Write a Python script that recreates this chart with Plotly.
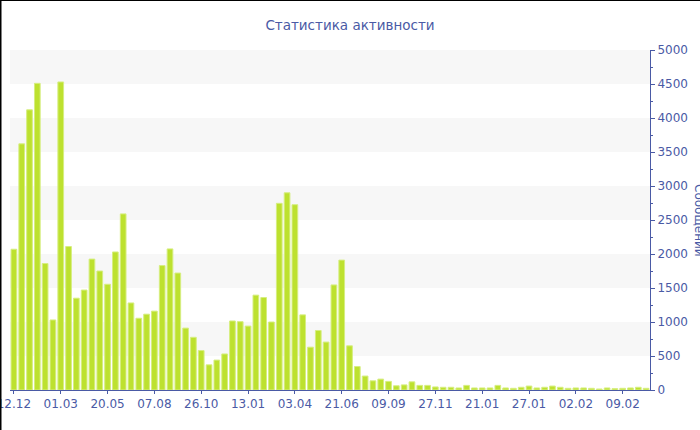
import plotly.graph_objects as go

# messages per period
messages = [
    2070, 3620, 4120, 4510, 1860, 1030, 4530, 2110, 1350, 1470,
    1925, 1750, 1555, 2030, 2590, 1280, 1055, 1115, 1160, 1830,
    2075, 1720, 910, 775, 580, 370, 440, 530, 1015, 1005,
    940, 1395, 1360, 1000, 2745, 2900, 2725, 1105, 630, 875,
    705, 1545, 1910, 650, 345, 205, 135, 160, 127, 62,
    75, 120, 68, 68, 45, 40, 40, 30, 68, 30,
    30, 30, 68, 30, 25, 40, 58, 30, 40, 58,
    40, 25, 30, 30, 25, 15, 30, 20, 25, 30,
    40, 25,
]
tick_labels = ["12.12", "01.03", "20.05", "07.08", "26.10", "13.01", "03.04",
               "21.06", "09.09", "27.11", "21.01", "27.01", "02.02", "09.02"]
tick_step = 6
y_max = 5000
y_step = 500

AXIS = "#4a5aa5"
BAR = "#bde12f"
W, H = 700, 430
M = dict(l=10, r=50, t=50, b=40)

x = list(range(len(messages)))
tickvals = [i * tick_step for i in range(len(tick_labels))]

fig = go.Figure(go.Bar(
    x=x,
    y=messages,
    marker=dict(color=BAR, line=dict(color="#d6ee80", width=1)),
    hovertemplate="%{y}<extra></extra>",
))

# alternating grey bands behind the bars
shapes = []
for lo in range(y_step, y_max, 2 * y_step):
    shapes.append(dict(type="rect", xref="paper", yref="y", x0=0, x1=1,
                       y0=lo, y1=lo + y_step, fillcolor="#f7f7f7",
                       line=dict(width=0), layer="below"))

# thin dark frame on top and left edges of the picture
pw = W - M["l"] - M["r"]
ph = H - M["t"] - M["b"]
left = -M["l"] / pw
right = (W - M["l"]) / pw
bottom = -M["b"] / ph
top = (H - M["b"]) / ph
shapes.append(dict(type="line", xref="paper", yref="paper", x0=left, x1=right,
                   y0=top, y1=top, line=dict(color="#000", width=2)))
shapes.append(dict(type="line", xref="paper", yref="paper", x0=left, x1=left,
                   y0=bottom, y1=top, line=dict(color="#000", width=3)))

fig.update_layout(
    width=W, height=H,
    paper_bgcolor="white",
    plot_bgcolor="white",
    margin=M,
    font=dict(family="DejaVu Sans", size=12, color=AXIS),
    title=dict(text="Статистика активности", x=0.5, xanchor="center",
               y=1 - 25 / H, yanchor="middle", font=dict(size=13.5, color=AXIS)),
    showlegend=False,
    bargap=0.27,
    shapes=shapes,
    xaxis=dict(
        range=[-0.5, len(messages) - 0.5],
        tickvals=tickvals, ticktext=tick_labels,
        showgrid=False, zeroline=False,
        showline=True, linecolor=AXIS, linewidth=1,
        ticks="outside", ticklen=3, tickcolor=AXIS,
        tickfont=dict(size=12, color=AXIS),
        ticklabeloverflow="allow",
        automargin=False,
    ),
    yaxis=dict(
        side="right",
        range=[0, y_max], dtick=y_step, tick0=0,
        showgrid=False, zeroline=False,
        showline=True, linecolor=AXIS, linewidth=1,
        ticks="outside", ticklen=4, tickcolor=AXIS,
        minor=dict(dtick=y_step / 2, ticks="outside", ticklen=2, tickcolor=AXIS),
        tickfont=dict(size=12, color=AXIS),
        ticklabeloverflow="allow",
        automargin=False,
    ),
    annotations=[dict(
        text="Сообщений", textangle=90, showarrow=False,
        xref="paper", yref="paper", x=(690 - M["l"]) / pw, xanchor="left",
        y=0.5, yanchor="middle", font=dict(size=12, color=AXIS),
    )],
)

fig.write_html("out.html", config={"displayModeBar": False},
               post_script="document.body.style.margin='0';document.body.style.overflow='hidden';")
